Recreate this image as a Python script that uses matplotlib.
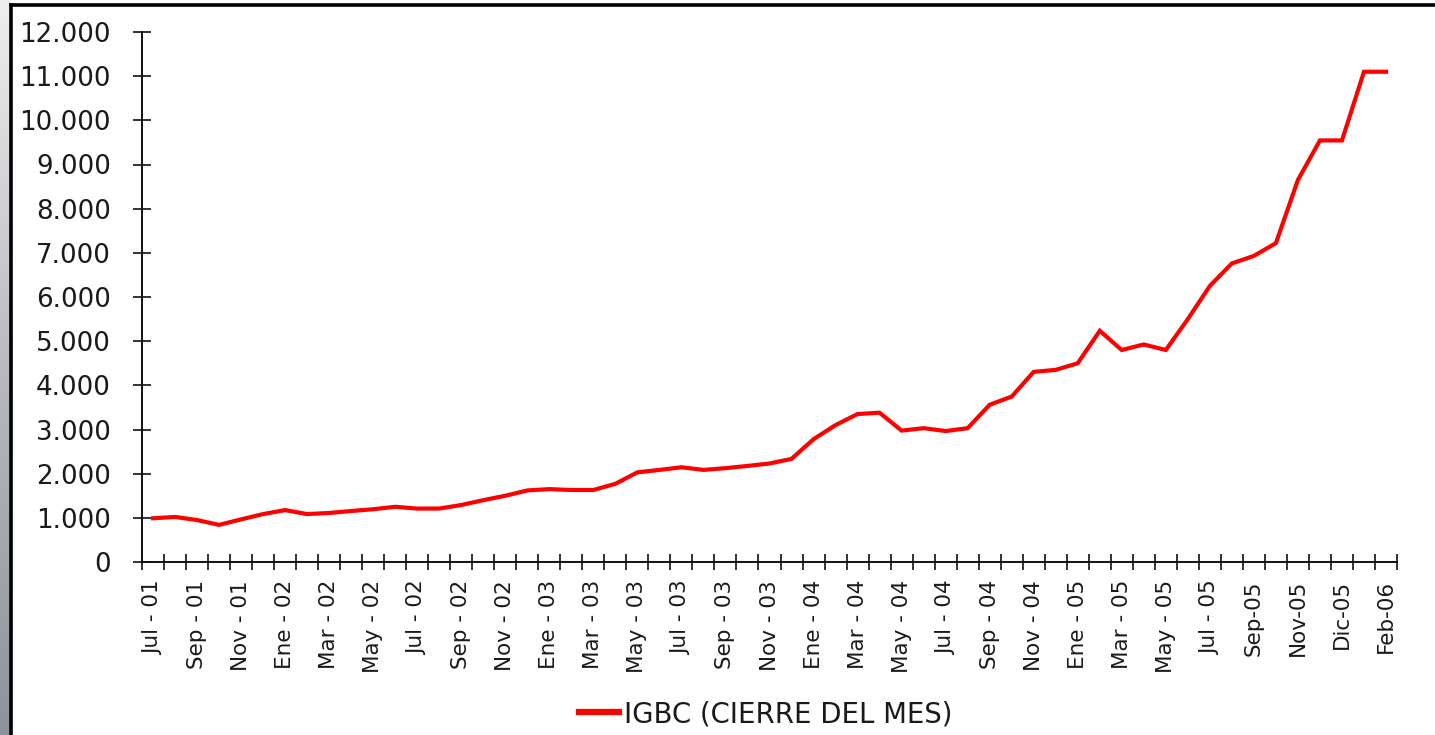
import matplotlib
matplotlib.use("Agg")
import matplotlib.pyplot as plt
import numpy as np
from matplotlib.ticker import FixedLocator, FuncFormatter, NullFormatter
from matplotlib.lines import Line2D
from matplotlib.colors import LinearSegmentedColormap

# ---- data ----
igbc_values = [990, 1020, 950, 840, 965, 1085, 1175, 1085, 1110, 1155,
               1195, 1250, 1210, 1210, 1290, 1400, 1500, 1620, 1650, 1630,
               1630, 1770, 2030, 2085, 2145, 2085, 2125, 2175, 2230, 2335,
               2780, 3100, 3350, 3380, 2975, 3030, 2965, 3030, 3560, 3745,
               4305, 4350, 4500, 5235, 4800, 4925, 4800, 5500, 6250, 6760,
               6930, 7220, 8650, 9545, 9545, 11100, 11100]
tick_labels = ["Jul - 01", "Sep - 01", "Nov - 01", "Ene - 02", "Mar - 02",
               "May - 02", "Jul - 02", "Sep - 02", "Nov - 02", "Ene - 03",
               "Mar - 03", "May - 03", "Jul - 03", "Sep - 03", "Nov - 03",
               "Ene - 04", "Mar - 04", "May - 04", "Jul - 04", "Sep - 04",
               "Nov - 04", "Ene - 05", "Mar - 05", "May - 05", "Jul - 05",
               "Sep-05", "Nov-05", "Dic-05", "Feb-06"]
y_ticks = [0, 1000, 2000, 3000, 4000, 5000, 6000, 7000, 8000, 9000, 10000, 11000, 12000]
series_name = "IGBC (CIERRE DEL MES)"

plt.rcParams['font.family'] = ['DejaVu Sans']
W, H = 1435, 735
fig = plt.figure(figsize=(W / 100, H / 100), dpi=100)
fig.patch.set_facecolor("white")

# slide background strip on the left
bg = fig.add_axes([0, 0, 10 / W, 1])
grad = np.linspace(0, 1, 256).reshape(-1, 1)
cmap = LinearSegmentedColormap.from_list("g", ["#eeeeee", "#b8bac0", "#8e929a"])
bg.imshow(grad, aspect="auto", cmap=cmap, extent=[0, 1, 0, 1])
bg.axis("off")

# black frame lines (top and left)
fig.add_artist(Line2D([11 / W, 1], [1 - 4.5 / H, 1 - 4.5 / H], color="black", lw=2.6,
                      transform=fig.transFigure))
fig.add_artist(Line2D([11 / W, 11 / W], [0, 1 - 4.5 / H], color="black", lw=2.6,
                      transform=fig.transFigure))

ax = fig.add_axes([142 / W, (H - 562) / H, (1397 - 142) / W, (562 - 32) / H])
x = np.arange(len(igbc_values))
line, = ax.plot(x, igbc_values, color="#ff0000", lw=3.0, solid_joinstyle="miter")

ax.set_xlim(-0.5, len(igbc_values) - 0.5)
ax.set_ylim(0, 12000)
for s in ["top", "right"]:
    ax.spines[s].set_visible(False)
for s in ["left", "bottom"]:
    ax.spines[s].set_color("#111111")
    ax.spines[s].set_linewidth(1.4)

text_color = "#1a1a1a"
ax.set_yticks(y_ticks)
ax.yaxis.set_major_formatter(FuncFormatter(lambda v, p: f"{int(v):,}".replace(",", ".")))
ax.tick_params(axis="y", direction="inout", length=12.5, width=1.2, color="#111111",
               labelsize=18.8, labelcolor=text_color, pad=16)

# category boundary ticks (major, unlabeled) and labels at centers (minor)
ax.xaxis.set_major_locator(FixedLocator(np.arange(-0.5, len(igbc_values), 1.0)))
ax.xaxis.set_major_formatter(NullFormatter())
label_pos = np.arange(0, len(igbc_values), 2)
ax.xaxis.set_minor_locator(FixedLocator(label_pos))
ax.set_xticklabels(tick_labels, minor=True, rotation=90)
ax.tick_params(axis="x", which="major", direction="inout", length=11, width=1.2, color="#111111")
ax.tick_params(axis="x", which="minor", length=0, labelsize=15.5, labelcolor=text_color, pad=13)

leg = fig.legend([line], [series_name], loc="center", bbox_to_anchor=(766 / W, 1 - 714 / H),
                 frameon=False, fontsize=19.8, handlelength=1.45, handletextpad=0.2,
                 labelcolor=text_color)
for h in leg.legend_handles:
    h.set_linewidth(4.5)

fig.savefig("out.png", dpi=100, facecolor="white")
